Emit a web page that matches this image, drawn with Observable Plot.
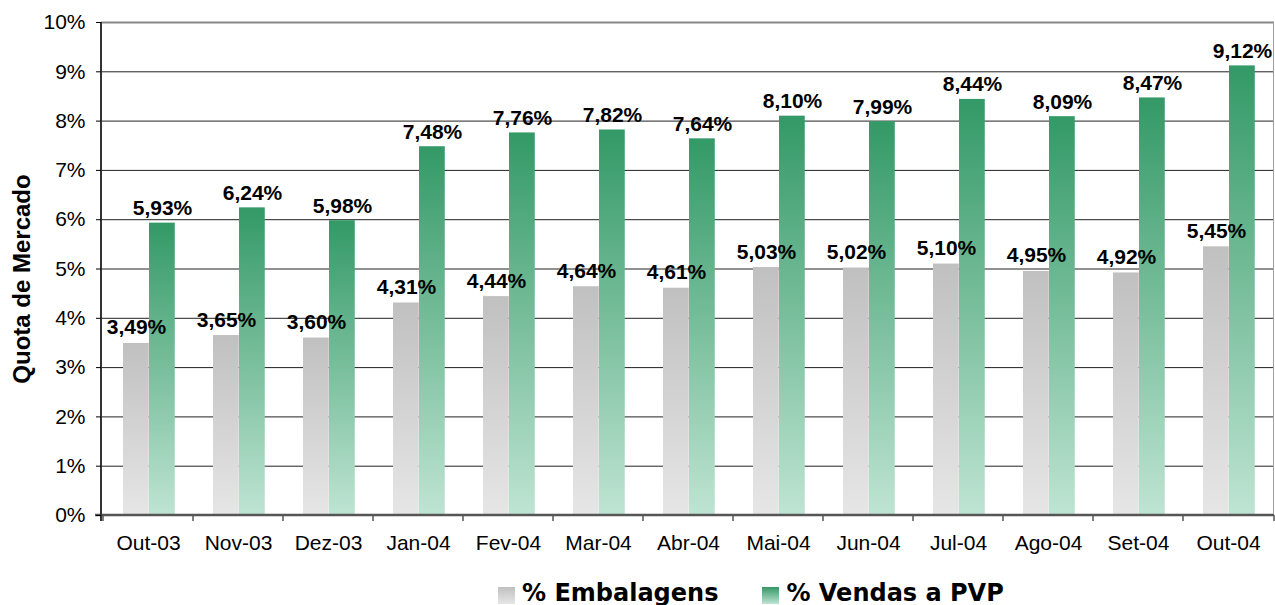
<!DOCTYPE html>
<html>
<head>
<meta charset="utf-8">
<script src="https://cdn.jsdelivr.net/npm/d3@7"></script>
<script src="https://cdn.jsdelivr.net/npm/@observablehq/plot@0.6"></script>
<style>
  html, body { margin: 0; padding: 0; background: #fff; }
  #chart { width: 1275px; }
  .legend { display: flex; align-items: center; height: 35px; padding-left: 498px; padding-top: 0px;
    font-family: "DejaVu Sans", Verdana, sans-serif; font-weight: bold; font-size: 24px; color: #000; }
  .legend .item { display: flex; align-items: center; margin-top: 10px; }
  .legend .sw { width: 17px; height: 17px; margin-right: 7px; margin-top: 5px; }
</style>
</head>
<body>
<div id="chart"></div>
<script>
const months = ["Out-03","Nov-03","Dez-03","Jan-04","Fev-04","Mar-04","Abr-04","Mai-04","Jun-04","Jul-04","Ago-04","Set-04","Out-04"];
const embalagens = [3.49, 3.65, 3.60, 4.31, 4.44, 4.64, 4.61, 5.03, 5.02, 5.10, 4.95, 4.92, 5.45];
const vendasPVP = [5.93, 6.24, 5.98, 7.48, 7.76, 7.82, 7.64, 8.10, 7.99, 8.44, 8.09, 8.47, 9.12];
const seriesNames = ["% Embalagens", "% Vendas a PVP"];
const yTicks = [0,1,2,3,4,5,6,7,8,9,10];
const yTitle = "Quota de Mercado";

const embData = months.map((m, i) => ({month: m, series: seriesNames[0], value: embalagens[i]}));
const pvpData = months.map((m, i) => ({month: m, series: seriesNames[1], value: vendasPVP[i]}));

const W = 1275, H = 570, ML = 101, MR = 1, MT = 22, MB = 55;
const step = (W - ML - MR) / months.length;
const fmt = d => d.value.toFixed(2).replace(".", ",") + "%";
const NS = "http://www.w3.org/2000/svg";

function el(name, attrs) {
  const e = document.createElementNS(NS, name);
  for (const k in attrs) e.setAttribute(k, attrs[k]);
  return e;
}

function defsMark() {
  const g = el("g", {});
  const defs = el("defs", {});
  const mk = (id, c1, c2) => {
    const lg = el("linearGradient", {id, x1: 0, y1: 0, x2: 0, y2: 1});
    lg.appendChild(el("stop", {offset: "0%", "stop-color": c1}));
    lg.appendChild(el("stop", {offset: "100%", "stop-color": c2}));
    defs.appendChild(lg);
  };
  mk("gGray", "#c0c0c0", "#e6e6e6");
  mk("gGreen", "#339966", "#bfe4d3");
  g.appendChild(defs);
  return g;
}

function axesMark(index, scales, values, dims) {
  const g = el("g", {});
  const left = dims.marginLeft, right = dims.width - dims.marginRight;
  const top = dims.marginTop, bottom = dims.height - dims.marginBottom;
  g.appendChild(el("line", {x1: right - 0.5, x2: right - 0.5, y1: top, y2: bottom, stroke: "#a0a0a0", "stroke-width": 1}));
  const xs = months.map(m => scales.x(m));
  xs.push(right);
  for (const x of xs) {
    g.appendChild(el("line", {x1: x, x2: x, y1: bottom, y2: bottom + 6, stroke: "#000", "stroke-width": 1}));
  }
  g.appendChild(el("line", {x1: left - 6, x2: right, y1: bottom, y2: bottom, stroke: "#555", "stroke-width": 2.5}));
  g.appendChild(el("line", {x1: left, x2: left, y1: top, y2: bottom + 6, stroke: "#333", "stroke-width": 2}));
  return g;
}

const plot = Plot.plot({
  width: W, height: H,
  marginLeft: ML, marginRight: MR, marginTop: MT, marginBottom: MB,
  style: {fontFamily: "'Liberation Sans', Arial, sans-serif", color: "#000", background: "#fff"},
  x: {type: "band", domain: months, padding: 0, label: null},
  y: {domain: [0, 10], label: null},
  marks: [
    defsMark,
    Plot.ruleY(yTicks.filter(d => d > 0 && d < 10), {stroke: "#222", strokeWidth: 1}),
    Plot.ruleY([10], {stroke: "#888", strokeWidth: 2}),
    Plot.barY(embData, {x: "month", y: "value", fill: "url(#gGray)", insetLeft: 20, insetRight: step - 46}),
    Plot.barY(pvpData, {x: "month", y: "value", fill: "url(#gGreen)", insetLeft: 46, insetRight: step - 72}),
    axesMark,
    Plot.axisY({ticks: yTicks, tickFormat: d => d + "%", tickSize: 5, tickPadding: 11, fontSize: 21, label: null, stroke: "#000"}),
    Plot.axisX({tickSize: 0, tickPadding: 20, fontSize: 21, label: null}),
    Plot.text(embData, {x: "month", y: "value", text: fmt, dx: -12, dy: -9, lineAnchor: "bottom", fontWeight: "bold", fontSize: 21, fill: "#000"}),
    Plot.text(pvpData, {x: "month", y: "value", text: fmt, dx: 14, dy: -8, lineAnchor: "bottom", fontWeight: "bold", fontSize: 21, fill: "#000"}),
    Plot.text([yTitle], {frameAnchor: "left", text: d => d, rotate: -90, textAnchor: "middle", dx: -79, dy: 10, fontWeight: "bold", fontSize: 24, fill: "#000"})
  ]
});
document.getElementById("chart").appendChild(plot);

const legend = document.createElement("div");
legend.className = "legend";
const swatches = [["linear-gradient(#c0c0c0, #e6e6e6)", 0], ["linear-gradient(#339966, #bfe4d3)", 44]];
seriesNames.forEach((name, i) => {
  const item = document.createElement("div");
  item.className = "item";
  item.style.marginLeft = swatches[i][1] + "px";
  const sw = document.createElement("div");
  sw.className = "sw";
  sw.style.background = swatches[i][0];
  const t = document.createElement("span");
  t.textContent = name;
  item.appendChild(sw);
  item.appendChild(t);
  legend.appendChild(item);
});
document.getElementById("chart").appendChild(legend);
</script>
</body>
</html>
